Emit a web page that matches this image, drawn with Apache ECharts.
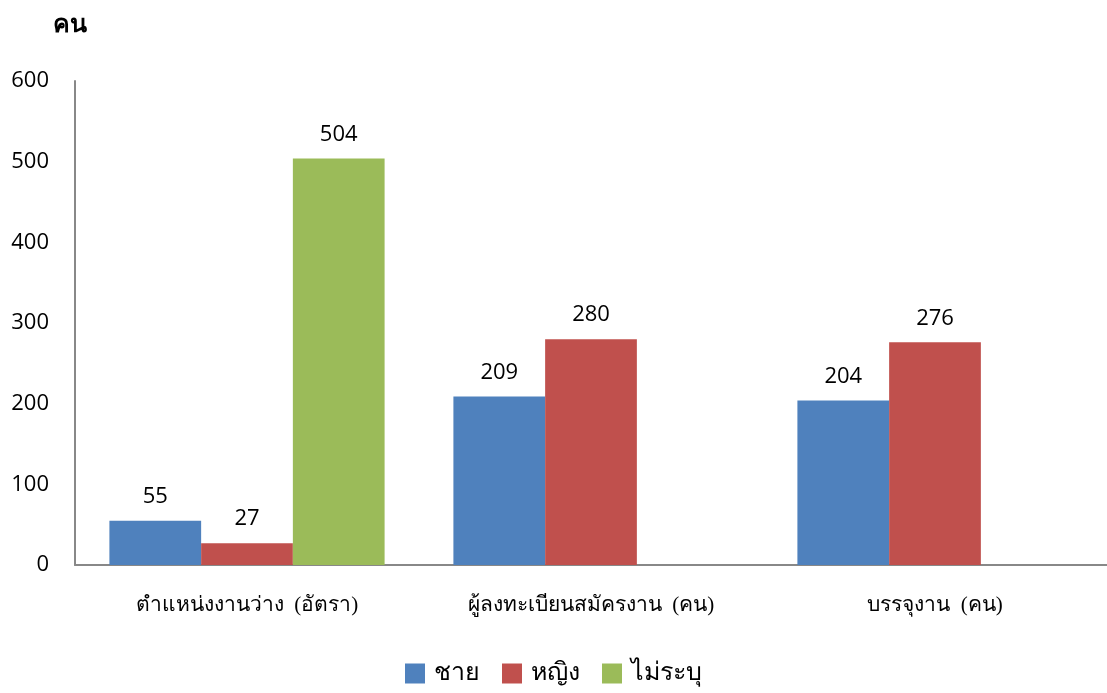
<!DOCTYPE html>
<html>
<head>
<meta charset="utf-8">
<script src="https://cdn.jsdelivr.net/npm/echarts@6/dist/echarts.min.js"></script>
<style>
  html, body { margin: 0; padding: 0; background: #fff; }
  #chart { width: 1107px; height: 693px; }
</style>
</head>
<body>
<div id="chart"></div>
<script>
// data
var categories = ['ตำแหน่งงานว่าง  (อัตรา)', 'ผู้ลงทะเบียนสมัครงาน  (คน)', 'บรรจุงาน  (คน)'];
var male = [55, 209, 204];
var female = [27, 280, 276];
var unspecified = [504, null, null];
var seriesNames = ['ชาย', 'หญิง', 'ไม่ระบุ'];
var colors = ['#4F81BD', '#C0504D', '#9BBB59'];

var chart = echarts.init(document.getElementById('chart'));

var labelStyle = {
    show: true,
    position: 'top',
    distance: 13,
    fontFamily: 'Open Sans, sans-serif',
    fontSize: 22,
    color: '#000'
};

function makeSeries(name, data, color) {
    return {
        name: name,
        type: 'bar',
        data: data,
        barGap: '0%',
        barCategoryGap: '20%',
        itemStyle: { color: color },
        label: labelStyle
    };
}

var option = {
    animation: false,
    title: {
        text: 'คน',
        left: 48,
        top: 8,
        textStyle: { fontSize: 25, fontWeight: 'bold', color: '#000', fontFamily: 'Liberation Serif, serif' }
    },
    legend: {
        data: seriesNames,
        bottom: 2,
        left: 'center',
        itemWidth: 20,
        itemHeight: 20,
        itemGap: 22,
        icon: 'rect',
        textStyle: { fontSize: 25, color: '#000', fontFamily: 'Liberation Serif, serif', padding: [0, 0, 0, 4] }
    },
    grid: {
        left: 75,
        width: 1040,
        top: 81,
        bottom: 128,
        containLabel: false
    },
    xAxis: {
        type: 'category',
        data: categories,
        axisLine: { lineStyle: { color: '#888', width: 2 } },
        axisTick: { show: false },
        axisLabel: {
            margin: 30,
            fontSize: 21,
            color: '#000',
            fontFamily: 'Liberation Serif, serif'
        }
    },
    yAxis: {
        type: 'value',
        min: 0,
        max: 600,
        interval: 100,
        axisLine: { show: true, lineStyle: { color: '#888', width: 2 } },
        axisTick: { show: false },
        splitLine: { show: false },
        axisLabel: {
            margin: 26,
            fontSize: 22,
            color: '#000',
            fontFamily: 'Open Sans, sans-serif'
        }
    },
    series: [
        makeSeries(seriesNames[0], male, colors[0]),
        makeSeries(seriesNames[1], female, colors[1]),
        makeSeries(seriesNames[2], unspecified, colors[2])
    ]
};

chart.setOption(option);
</script>
</body>
</html>
